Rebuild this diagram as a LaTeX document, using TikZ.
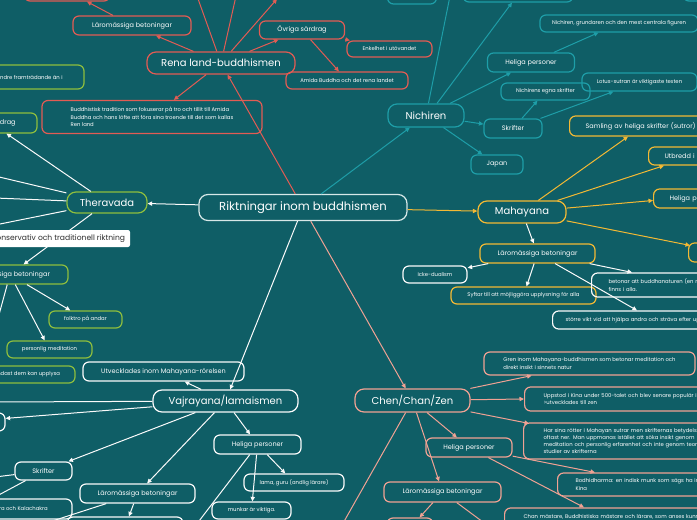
\documentclass[tikz,border=0pt]{standalone}
\usepackage{fontspec}
\setmainfont{Poppins}
\usetikzlibrary{arrows.meta, calc}

\definecolor{bgc}{RGB}{15,94,102}
\definecolor{hubc}{RGB}{215,232,232}
\definecolor{renac}{RGB}{226,92,84}
\definecolor{nichc}{RGB}{30,158,168}
\definecolor{mahac}{RGB}{243,185,52}
\definecolor{therac}{RGB}{142,190,62}
\definecolor{vajrc}{RGB}{250,250,250}
\definecolor{chenc}{RGB}{240,162,148}
\definecolor{darktext}{RGB}{45,45,45}

\begin{document}
\begin{tikzpicture}[x=1pt, y=-1pt, >={Triangle[length=4.5pt,width=4.2pt]},
    box/.style={draw, line width=1.2pt, rounded corners=6pt, text=white, align=center, inner sep=1pt},
    sz/.style 2 args={minimum width=#1pt, minimum height=#2pt},
    hub/.style={box, draw=hubc, rounded corners=9pt, font=\fontsize{11.6}{13}\selectfont},
    branch/.style={box, rounded corners=9pt, font=\fontsize{10}{12}\selectfont},
    topic/.style={box, font=\fontsize{6.5}{8}\selectfont},
    leaf/.style={box, font=\fontsize{5.3}{7.2}\selectfont},
    cutbox/.style={anchor=west, inner xsep=16pt, text width=#1, align=left},
    arr/.style={->, line width=1pt},
    link/.style={line width=1pt}]

        \useasboundingbox (0,0) rectangle (697,520);
        \clip (0,0) rectangle (697,520);
        \fill[bgc] (0,0) rectangle (697,520);

        % ==========================================
        % CENTRE
        % ==========================================
        \node[hub, sz={208}{26}] (hub) at (303,207.5) {Riktningar inom buddhismen};

        % ==========================================
        % RENA LAND-BUDDHISMEN (top left)
        % ==========================================
        \begin{scope}[renac]
        \node[branch, sz={148}{22}] (rena) at (221,63) {Rena land-buddhismen};
        \node[topic, sz={118}{19}] (renalaro) at (132,25.5) {Läromässiga betoningar};
        \node[topic, sz={86}{20}] (renaupp) at (67,-9) {};
        \node[leaf, sz={220}{33}, align=left] (renatrad) at (152,117) {Buddhistisk tradition som fokuserar på tro och tillit till Amida\\Buddha och hans löfte att föra sina troende till det som kallas\\Ren land};
        \node[topic, sz={85}{18}] (renaovr) at (302,30) {Övriga särdrag};
        \node[leaf, sz={85}{16}] (enkel) at (389.5,49) {Enkelhet i utövandet};
        \node[leaf, sz={122}{17}] (amida) at (347,80.5) {Amida Buddha och det rena landet};
        \coordinate (renaut1) at (197,-4);
        \coordinate (renaut2) at (236,-4);
        \coordinate (renaut3) at (277,-1);

        \draw[arr] (hub) -- (rena);
        \draw[arr] (rena) -- (renalaro);
        \draw[arr] (renalaro) -- (renaupp);
        \draw[arr] (rena) -- (renatrad);
        \draw[arr] (rena) -- (renaovr);
        \draw[arr] (renaovr) -- (enkel);
        \draw[arr] (renaovr) -- (amida);
        \draw[link] (rena) -- (renaut1);
        \draw[link] (rena) -- (renaut2);
        \draw[arr] (rena) -- (renaut3);
        \end{scope}

        % ==========================================
        % NICHIREN (top right)
        % ==========================================
        \begin{scope}[nichc]
        \node[branch, sz={76}{23}] (nich) at (426,115.5) {Nichiren};
        \node[topic, sz={49}{24}] (nichupp1) at (412,-8) {};
        \node[topic, sz={110}{22}] (nichupp2) at (518,-9) {};
        \node[topic, sz={74}{22}] (nichupp3) at (720,-10) {};
        \node[topic, sz={87}{19}] (nichhel) at (531,62.5) {Heliga personer};
        \node[leaf, sz={158}{17}] (grund) at (619,23.5) {Nichiren, grundaren och den mest centrala figuren};
        \node[topic, sz={58}{19}] (nichskr) at (513,128.5) {Skrifter};
        \node[leaf, sz={89}{17}] (egna) at (545.5,91.5) {Nichirens egna skrifter};
        \node[leaf, sz={115}{18}] (lotus) at (639.5,82) {Lotus-sutran är viktigaste texten};
        \node[topic, sz={52}{19}] (japan) at (497,164.5) {Japan};
        \coordinate (nichut) at (450,-4);

        \draw[arr] (hub) -- (nich);
        \draw[link] (nich) -- (nichut);
        \draw[arr] ([xshift=11pt]nich.north) -- ([xshift=-6pt]nichupp2.south);
        \draw[arr] (nich) -- (nichhel);
        \draw[arr] (nichhel) -- (grund);
        \draw[arr] (nich) -- (nichskr);
        \draw[arr] (nichskr) -- (egna);
        \draw[arr] (nichskr) -- (lotus);
        \draw[arr] (nich) -- (japan);
        \end{scope}

        % ==========================================
        % MAHAYANA (right)
        % ==========================================
        \begin{scope}[mahac]
        \node[branch, sz={88}{22}] (maha) at (522,212) {Mahayana};
        \node[topic, cutbox=160pt, minimum height=20pt] (samling) at (569,126) {Samling av heliga skrifter (sutror)};
        \node[topic, cutbox=160pt, minimum height=18pt] (utbredd) at (648,156) {Utbredd i};
        \node[topic, cutbox=160pt, minimum height=19pt] (mahhel) at (653,198.5) {Heliga personer};
        \node[topic, cutbox=160pt, minimum height=19pt] (mahfyra) at (688,252.5) {};
        \node[topic, sz={115}{19}] (mahlaro) at (537.5,253.5) {Läromässiga betoningar};
        \node[leaf, sz={145}{17}] (syftar) at (523.5,295.5) {Syftar till att möjliggöra upplysning för alla};
        \node[leaf, draw=vajrc, sz={64}{17}] (icke) at (435,274.5) {Icke-dualism};
        \node[leaf, draw=vajrc, cutbox=200pt, inner xsep=17pt, minimum height=24pt] (natur) at (591,285) {betonar att buddhanaturen (en medfödd potential\\finns i alla.};
        \node[leaf, draw=vajrc, cutbox=220pt, inner xsep=13pt, minimum height=18pt] (storre) at (552,320) {större vikt vid att hjälpa andra och sträva efter upplysning};

        \draw[arr] (hub) -- (maha);
        \draw[arr] (maha) -- ([xshift=59pt]samling.south west);
        \draw[arr] (maha) -- ([xshift=16pt]utbredd.south west);
        \draw[arr] (maha) -- ([yshift=-2pt]mahhel.west);
        \draw[arr] (maha) -- ([yshift=-3pt,xshift=2pt]mahfyra.north west);
        \draw[arr, vajrc] (maha) -- (mahlaro);
        \draw[arr, vajrc] (mahlaro) -- (icke);
        \draw[arr, vajrc] (mahlaro) -- (syftar);
        \draw[arr, vajrc] ([xshift=-6pt]mahlaro.south east) -- ([xshift=41pt]natur.north west);
        \draw[arr, vajrc] (mahlaro) -- ([xshift=85pt]storre.north west);
        \end{scope}

        % ==========================================
        % THERAVADA (left)
        % ==========================================
        \begin{scope}[therac]
        \node[branch, sz={80}{21}] (thera) at (107,202.5) {Theravada};
        \node[leaf, sz={112}{24}] (mindre) at (28,77) {mindre framträdande än i};
        \node[topic, sz={92}{20}] (tsard) at (-9,123) {Övriga särdrag};
        \node[topic, sz={116}{19}] (tlaro) at (10,274.5) {Läromässiga betoningar};
        \node[leaf, sz={73}{17}] (folktro) at (85.5,319.5) {folktro på andar};
        \node[leaf, sz={85}{17}] (medit) at (49.5,349.5) {personlig meditation};
        \node[leaf, sz={96}{17}] (endast) at (27,374.5) {endast dem kan upplysa};
        \coordinate (theut1) at (-5,176);
        \coordinate (theut2) at (-5,198);
        \coordinate (theut3) at (-5,225);
        \coordinate (tlarout) at (-3,322);

        \draw[arr, vajrc] (hub) -- (thera);
        \draw[arr, vajrc] (thera) -- (tsard);
        \draw[link, vajrc] (thera) -- (theut1);
        \draw[link, vajrc] (thera) -- (theut2);
        \draw[link, vajrc] (thera) -- (theut3);
        \draw[arr, vajrc] (thera) -- (tlaro);
        \draw[link, vajrc] (tlaro) -- (tlarout);
        \draw[arr, vajrc] (tlaro) -- (medit);
        \draw[arr, vajrc] (tlaro) -- (folktro);

        % note on top of the connector
        \node[fill=white, rounded corners=2pt, text=darktext, inner sep=1pt, sz={143}{17},
              font=\fontsize{7.6}{9}\selectfont] (konserv) at (58.5,238.5) {Konservativ och traditionell riktning};
        \end{scope}

        % ==========================================
        % VAJRAYANA (bottom left)
        % ==========================================
        \begin{scope}[vajrc]
        \node[branch, sz={145}{22}] (vajra) at (225.5,401) {Vajrayana/lamaismen};
        \node[topic, sz={161}{19}] (utveckl) at (163.5,371.5) {Utvecklades inom Mahayana-rörelsen};
        \node[topic, sz={90}{18}] (vvanster) at (-40,422) {};
        \node[topic, sz={57}{18}] (vskr) at (43.5,471) {Skrifter};
        \node[leaf, sz={109}{20}] (kala) at (17.5,509) {Tantra och Kalachakra};
        \node[topic, sz={115}{19}] (vlaro) at (137.5,493.5) {Läromässiga betoningar};
        \node[topic, sz={116}{20}] (vlaroned) at (125,527) {};
        \node[topic, sz={87}{19}] (vhel) at (257.5,444.5) {Heliga personer};
        \node[leaf, sz={100}{17}] (lama) at (294,482.5) {lama, guru (andlig lärare)};
        \node[leaf, sz={79}{17}] (munkar) at (251.5,510.5) {munkar är viktiga.};
        \coordinate (vajut) at (-5,402);
        \coordinate (vskrut1) at (-5,477);
        \coordinate (vskrut2) at (-5,497);
        \coordinate (vlarout) at (40,525);
        \coordinate (vhelut) at (196,525);

        \draw[arr] (hub) -- (vajra);
        \draw[arr] (vajra) -- (utveckl);
        \draw[link] (vajra) -- (vajut);
        \draw[arr] (vajra) -- (vvanster);
        \draw[arr] (vajra) -- (vskr);
        \draw[link] (vskr) -- (vskrut1);
        \draw[link] (vskr) -- (vskrut2);
        \draw[arr] (vajra) -- (vlaro);
        \draw[arr] (vlaro) -- (vlaroned);
        \draw[link] (vlaro) -- (vlarout);
        \draw[arr] (vajra) -- (vhel);
        \draw[arr] (vhel) -- (lama);
        \draw[arr] (vhel) -- (munkar);
        \draw[link] (vhel) -- (vhelut);
        \end{scope}

        % ==========================================
        % CHEN/CHAN/ZEN (bottom right)
        % ==========================================
        \begin{scope}[chenc]
        \node[branch, sz={115}{23}] (chen) at (412.5,400.5) {Chen/Chan/Zen};
        \node[leaf, sz={211}{23}, align=left] (gren) at (589.5,363.5) {Gren inom Mahayana-buddhismen som betonar meditation och\\direkt insikt i sinnets natur};
        \node[leaf, cutbox=200pt, inner xsep=19pt, minimum height=24pt] (uppstod) at (524,399) {Uppstod i Kina under 500-talet och blev senare populär i Japan\\>utvecklades till zen};
        \node[leaf, cutbox=200pt, inner xsep=20pt, minimum height=36pt] (rotter) at (523,441) {Har sina rötter i Mahayan sutrar men skrifternas betydelse tonas\\oftast ner. Man uppmanas istället att söka insikt genom\\meditation och personlig erfarenhet och inte genom teoretiska\\studier av skrifterna};
        \node[topic, sz={86}{19}] (chhel) at (469,447.5) {Heliga personer};
        \node[leaf, cutbox=200pt, inner xsep=18pt, minimum height=23pt] (bodhi) at (557,484.5) {Bodhidharma: en indisk munk som sägs ha introducerat Chan i\\Kina};
        \node[leaf, cutbox=220pt, inner xsep=19pt, minimum height=18pt] (chanm) at (504,517) {Chan mästare, Buddhistiska mästare och lärare, som anses kunna};
        \node[topic, sz={117}{20}] (chlaro) at (442.5,492) {Läromässiga betoningar};
        \node[topic, sz={46}{20}] (chlaroned) at (410,528) {};
        \coordinate (chenut) at (342,525);
        \coordinate (chlarout) at (487,525);

        \draw[arr] (hub) -- (chen);
        \draw[arr] (chen) -- (gren);
        \draw[arr] (chen) -- (uppstod.west);
        \draw[arr] (chen) -- ([xshift=6pt,yshift=-1pt]rotter.north west);
        \draw[arr] (chen) -- (chhel);
        \draw[arr] (chhel) -- ([xshift=38pt]bodhi.north west);
        \draw[arr] (chhel) -- ([xshift=80pt]chanm.north west);
        \draw[arr] (chen) -- (chlaro);
        \draw[arr] (chlaro) -- (chlaroned);
        \draw[link] (chlaro) -- (chlarout);
        \draw[link] (chen) -- (chenut);
        \end{scope}

\end{tikzpicture}
\end{document}
